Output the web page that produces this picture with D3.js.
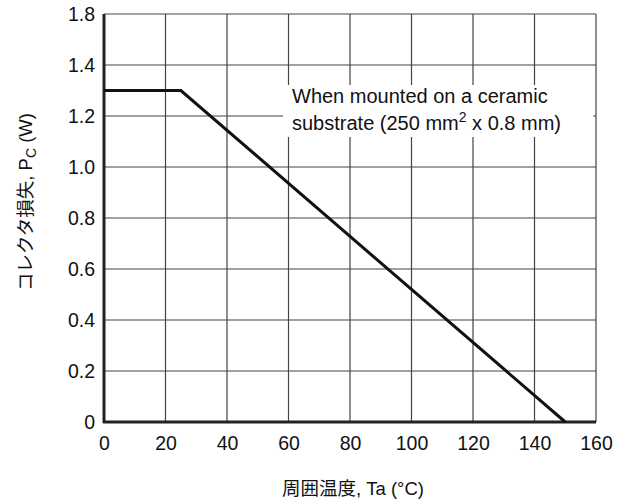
<!DOCTYPE html>
<html>
<head>
<meta charset="utf-8">
<script src="https://cdn.jsdelivr.net/npm/d3@7"></script>
<style>
  body { margin: 0; background: #fff; }
  svg text { font-family: "Liberation Sans", Arial, "Noto Sans CJK JP", sans-serif; fill: #111; }
</style>
</head>
<body>
<svg width="624" height="504"></svg>
<script>
// data
const temps = [0, 25, 150];
const power = [1.3, 1.3, 0];
const xTicks = [0, 20, 40, 60, 80, 100, 120, 140, 160];
const yTicks = [0, 0.2, 0.4, 0.6, 0.8, 1.0, 1.2, 1.4, 1.6];
// the original prints "1.8" on the top gridline
const yTickLabels = ["0", "0.2", "0.4", "0.6", "0.8", "1.0", "1.2", "1.4", "1.8"];

const margin = { top: 14, right: 28, bottom: 82, left: 104 };
const width = 624 - margin.left - margin.right;
const height = 504 - margin.top - margin.bottom;

const svg = d3.select("svg");
const g = svg.append("g")
    .attr("transform", `translate(${margin.left},${margin.top})`);

const x = d3.scaleLinear().domain([0, 160]).range([0, width]);
const y = d3.scaleLinear().domain([0, 1.6]).range([height, 0]);

// grid
g.selectAll(".vgrid")
    .data(xTicks.slice(1))
    .enter().append("line")
    .attr("class", "vgrid")
    .attr("x1", d => x(d)).attr("x2", d => x(d))
    .attr("y1", 0).attr("y2", height)
    .attr("stroke", "#444").attr("stroke-width", 1.2);

g.selectAll(".hgrid")
    .data(yTicks.slice(1))
    .enter().append("line")
    .attr("class", "hgrid")
    .attr("x1", 0).attr("x2", width)
    .attr("y1", d => y(d)).attr("y2", d => y(d))
    .attr("stroke", "#444").attr("stroke-width", 1.2);

// axes (no tick marks, thick left/bottom)
const xAxis = g.append("g")
    .attr("transform", `translate(0,${height})`)
    .call(d3.axisBottom(x).tickValues(xTicks).tickSize(0).tickPadding(14));
const yAxis = g.append("g")
    .call(d3.axisLeft(y).tickValues(yTicks).tickSize(0).tickPadding(9)
        .tickFormat((d, i) => yTickLabels[i]));

[xAxis, yAxis].forEach(a => {
    a.select(".domain").remove();
    a.selectAll("text").style("font-size", "19.5px").attr("fill", "#111");
});

g.append("line")
    .attr("x1", 0).attr("x2", 0).attr("y1", 0).attr("y2", height + 1)
    .attr("stroke", "#222").attr("stroke-width", 3);
g.append("line")
    .attr("x1", -1).attr("x2", width).attr("y1", height).attr("y2", height)
    .attr("stroke", "#222").attr("stroke-width", 3);

// annotation with white background
const note = g.append("g");
note.append("rect")
    .attr("x", 179).attr("y", 71)
    .attr("width", 310).attr("height", 52)
    .attr("fill", "#fff");
const noteX = 188, noteY = 89;
note.append("text")
    .attr("x", noteX).attr("y", noteY)
    .style("font-size", "20px")
    .text("When mounted on a ceramic");
const t2 = note.append("text")
    .attr("x", noteX).attr("y", noteY + 27)
    .style("font-size", "20px");
t2.append("tspan").text("substrate (250 mm");
t2.append("tspan").attr("dy", -8).style("font-size", "14px").text("2");
t2.append("tspan").attr("dy", 8).text(" x 0.8 mm)");

// data line
const line = d3.line()
    .x(d => x(d[0]))
    .y(d => y(d[1]));
g.append("path")
    .datum(temps.map((t, i) => [t, power[i]]))
    .attr("d", line)
    .attr("fill", "none")
    .attr("stroke", "#111")
    .attr("stroke-width", 3);

// axis titles
svg.append("text")
    .attr("x", 353).attr("y", 495)
    .attr("text-anchor", "middle")
    .style("font-size", "18.5px")
    .text("周囲温度, Ta (°C)");

const yt = svg.append("text")
    .attr("transform", "translate(32,202) rotate(-90)")
    .attr("text-anchor", "middle")
    .style("font-size", "18.5px");
yt.append("tspan").text("コレクタ損失, P");
yt.append("tspan").attr("dy", 4).style("font-size", "14px").text("C");
yt.append("tspan").attr("dy", -4).text(" (W)");
</script>
</body>
</html>
